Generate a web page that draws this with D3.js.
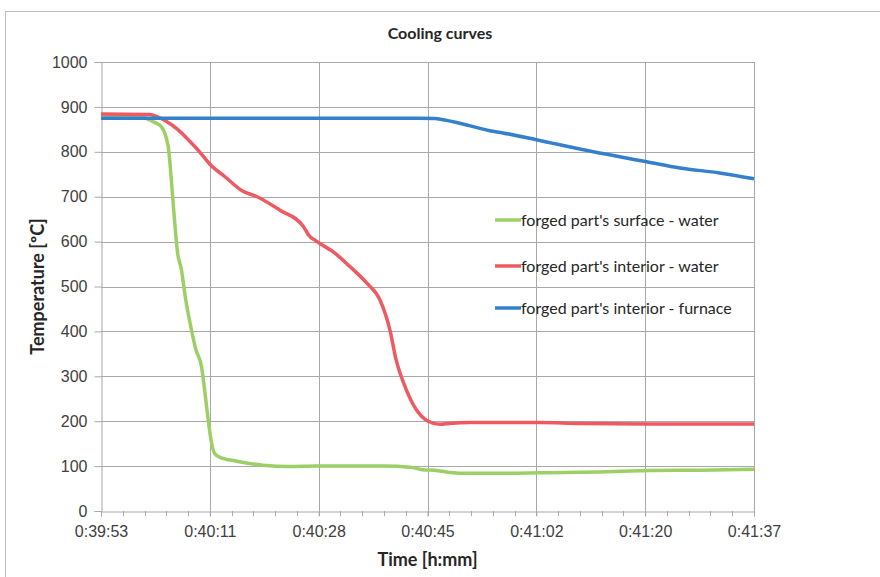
<html lang="en">
<head>
<meta charset="utf-8">
<script src="https://cdnjs.cloudflare.com/ajax/libs/d3/7.7.0/d3.min.js"></script>
<style>
html, body {
  margin: 0;
  background: #fff;
}
svg {
  font-family: Lato, 'Open Sans', sans-serif;
}
</style>
</head>
<body>
<svg width="880" height="577"></svg>
<script>
// time in seconds after 0:39:53, temperature in degC
const timeLabels = ['0:39:53', '0:40:11', '0:40:28', '0:40:45', '0:41:02', '0:41:20', '0:41:37'];
const tempTicks = [0, 100, 200, 300, 400, 500, 600, 700, 800, 900, 1000];

const surfaceWater = [
  [0, 878], [6.2, 878], [7.4, 873], [8.6, 865], [9.6, 856], [10.7, 812], [11.3, 720],
  [11.7, 649], [12.2, 575], [12.8, 538], [13.5, 470], [14.4, 404], [15.1, 360],
  [16.0, 322], [16.5, 270], [17.0, 211], [17.6, 152], [18.1, 128], [18.9, 120],
  [21.6, 111], [25.8, 102], [30.1, 99], [34.3, 100], [44.9, 100], [49.6, 97],
  [51.2, 92], [53.1, 91], [55.5, 86], [58.7, 84], [63.5, 84], [69.9, 85],
  [79.4, 87], [87.4, 90], [95.4, 91], [104, 93]
];

const interiorWater = [
  [0, 884], [7.8, 883], [9.0, 878], [10.4, 868], [12.2, 850], [14.1, 824], [15.7, 800],
  [17.3, 773], [19.7, 745], [22.6, 712], [24.7, 701], [28.5, 670], [32.2, 634],
  [32.7, 623], [33.0, 616], [34.3, 601], [37.2, 575], [39.6, 545], [42.3, 508],
  [44.4, 471], [46.0, 404], [47.0, 337], [48.6, 271], [50.2, 226], [52.1, 200],
  [54.0, 193], [55.5, 195], [58.7, 197], [69.9, 197], [76.2, 195], [87.4, 194], [104, 194]
];

const interiorFurnace = [
  [0, 875], [50.7, 875], [53.1, 874], [56.1, 867], [61.9, 847], [64.0, 842],
  [69.3, 827], [78.4, 800], [86.9, 778], [92.2, 764], [98.5, 753], [104, 740]
];

const seriesNames = ["forged part's surface - water", "forged part's interior - water", "forged part's interior - furnace"];
const seriesColors = ['#9cd066', '#ee5a61', '#3580cc'];

const svg = d3.select('svg');
const margin = { top: 62, right: 126, bottom: 66, left: 101 };
const W = 880, H = 577;

svg.append('rect')
  .attr('x', 5.5).attr('y', 11.5)
  .attr('width', 900).attr('height', 600)
  .attr('fill', '#fff')
  .attr('stroke', '#bdbdbd');

const x = d3.scaleLinear().domain([0, 104]).range([margin.left, W - margin.right]);
const y = d3.scaleLinear().domain([0, 1000]).range([H - margin.bottom, margin.top]);

const majors = d3.range(7).map(i => i * 104 / 6);
const minors = d3.range(31).map(i => i * 104 / 30);

// grid
svg.append('g')
  .selectAll('line')
  .data(tempTicks.slice(1))
  .enter()
  .append('line')
  .attr('x1', x(0)).attr('x2', x(104))
  .attr('y1', d => Math.round(y(d)) + 0.5).attr('y2', d => Math.round(y(d)) + 0.5)
  .attr('stroke', '#a8a8a8');

svg.append('g')
  .selectAll('line')
  .data(majors.slice(1))
  .enter()
  .append('line')
  .attr('x1', d => Math.round(x(d)) + 0.5).attr('x2', d => Math.round(x(d)) + 0.5)
  .attr('y1', y(0)).attr('y2', y(1000))
  .attr('stroke', '#a8a8a8');

// y axis
const yAxis = svg.append('g')
  .attr('transform', `translate(${Math.round(x(0)) + 0.5},0)`)
  .call(d3.axisLeft(y).tickValues(tempTicks).tickFormat(d3.format('d')).tickSize(7).tickPadding(7));
yAxis.select('.domain').attr('stroke', '#a8a8a8');
yAxis.selectAll('.tick line').attr('stroke', '#a8a8a8');
yAxis.selectAll('.tick text').attr('font-size', 16).attr('fill', '#404040');

// x axis
const xAxis = svg.append('g')
  .attr('transform', `translate(0,${Math.round(y(0)) + 0.5})`)
  .call(d3.axisBottom(x).tickValues(majors).tickFormat((d, i) => timeLabels[i]).tickSize(5).tickPadding(9));
xAxis.select('.domain').attr('stroke', '#a8a8a8');
xAxis.selectAll('.tick line').attr('stroke', '#a8a8a8');
xAxis.selectAll('.tick text').attr('font-size', 16).attr('fill', '#404040');

svg.append('g')
  .selectAll('line')
  .data(minors)
  .enter()
  .append('line')
  .attr('x1', d => Math.round(x(d)) + 0.5).attr('x2', d => Math.round(x(d)) + 0.5)
  .attr('y1', y(0)).attr('y2', y(0) + 5)
  .attr('stroke', '#a8a8a8');

// lines
const line = d3.line()
  .x(d => x(d[0]))
  .y(d => y(d[1]))
  .curve(d3.curveMonotoneX);

[surfaceWater, interiorWater, interiorFurnace].forEach((s, i) => {
  svg.append('path')
    .datum(s)
    .attr('d', line)
    .attr('fill', 'none')
    .attr('stroke', seriesColors[i])
    .attr('stroke-width', 3.5)
    .attr('stroke-linejoin', 'round');
});

// legend
const legend = svg.append('g').attr('transform', 'translate(495,220)');
seriesNames.forEach((name, i) => {
  const g = legend.append('g').attr('transform', `translate(0,${[0, 46, 88][i]})`);
  g.append('line')
    .attr('x1', 0).attr('x2', 26)
    .attr('stroke', seriesColors[i])
    .attr('stroke-width', 3.5);
  g.append('text')
    .attr('x', 26)
    .attr('dy', '0.35em')
    .attr('font-size', 16)
    .attr('fill', '#262626')
    .text(name);
});

// titles
svg.append('text')
  .attr('x', 440).attr('y', 39)
  .attr('text-anchor', 'middle')
  .attr('font-size', 16)
  .attr('font-weight', 'bold')
  .attr('fill', '#262626')
  .text('Cooling curves');

svg.append('text')
  .attr('x', (x(0) + x(104)) / 2).attr('y', 566)
  .attr('text-anchor', 'middle')
  .attr('font-size', 18)
  .attr('font-weight', 'bold')
  .attr('fill', '#262626')
  .text('Time [h:mm]');

svg.append('text')
  .attr('transform', `translate(44,${(y(0) + y(1000)) / 2}) rotate(-90)`)
  .attr('text-anchor', 'middle')
  .attr('font-size', 18)
  .attr('font-weight', 'bold')
  .attr('fill', '#262626')
  .text('Temperature [ºC]');
</script>
</body>
</html>
